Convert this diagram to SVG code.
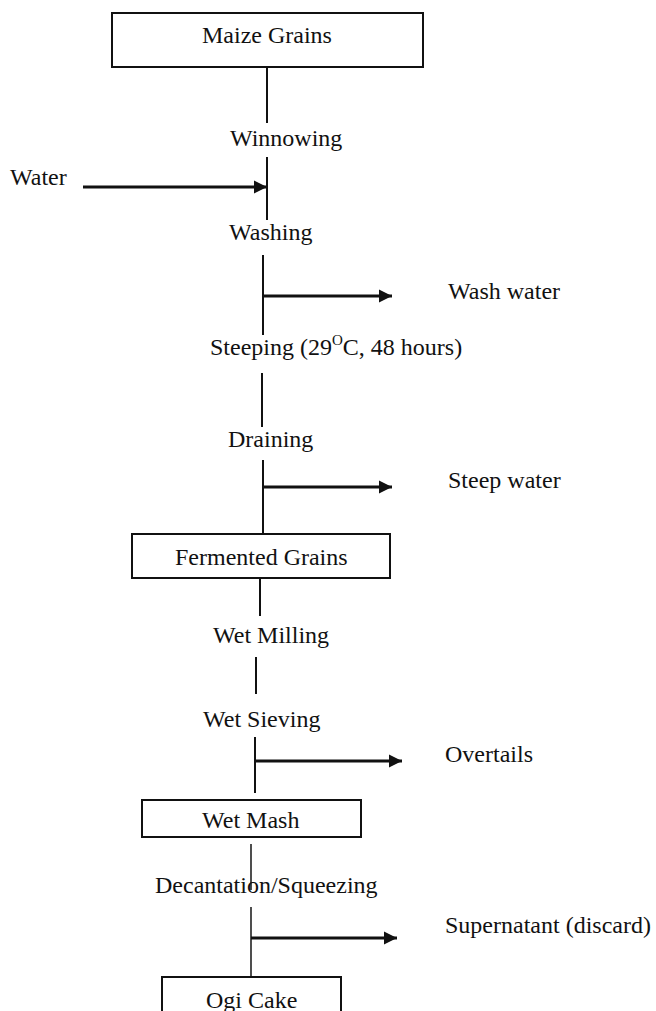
<svg xmlns="http://www.w3.org/2000/svg" width="656" height="1011" viewBox="0 0 656 1011">
<style>
  text { font-family: "Liberation Serif", "Times New Roman", serif; font-size: 24px; fill: #111; }
  .box { fill: #fff; stroke: #111; stroke-width: 2; }
  .ln { stroke: #111; stroke-width: 2; fill: none; }
  .ln2 { stroke: #222; stroke-width: 1.6; fill: none; }
  .arr { stroke: #111; stroke-width: 3; fill: none; marker-end: url(#ah); }
</style>
<defs>
  <marker id="ah" markerUnits="userSpaceOnUse" markerWidth="16" markerHeight="14" refX="13" refY="7" orient="auto">
    <path d="M0,0.5 L13,7 L0,13.5 Z" fill="#111"/>
  </marker>
</defs>
<rect width="656" height="1011" fill="#fff"/>
<g id="connectors">
  <line class="ln" x1="267" y1="67" x2="267" y2="123"/>
  <line class="arr" x1="83" y1="187" x2="267" y2="187"/>
  <line class="ln" x1="267" y1="157" x2="267" y2="220"/>
  <line class="ln" x1="263" y1="255" x2="263" y2="335"/>
  <line class="arr" x1="263" y1="296" x2="392" y2="296"/>
  <line class="ln" x1="262" y1="373" x2="262" y2="427"/>
  <line class="ln" x1="263" y1="460" x2="263" y2="534"/>
  <line class="arr" x1="263" y1="487" x2="392" y2="487"/>
  <line class="ln" x1="260" y1="578" x2="260" y2="616"/>
  <line class="ln" x1="256" y1="657" x2="256" y2="694"/>
  <line class="ln" x1="255" y1="737" x2="255" y2="793"/>
  <line class="arr" x1="255" y1="761" x2="402" y2="761"/>
  <line class="ln2" x1="251" y1="844" x2="251" y2="890"/>
  <line class="ln2" x1="251" y1="907" x2="251" y2="977"/>
  <line class="arr" x1="251" y1="938" x2="397" y2="938"/>
</g>
<g id="maize-grains">
  <rect class="box" x="112" y="13" width="311" height="54"/>
  <text x="202" y="43">Maize Grains</text>
</g>
<g id="winnowing"><text x="230" y="146">Winnowing</text></g>
<g id="water"><text x="10" y="185">Water</text></g>
<g id="washing"><text x="229" y="240">Washing</text></g>
<g id="wash-water"><text x="448" y="299">Wash water</text></g>
<g id="steeping"><text x="210" y="355">Steeping (29<tspan font-size="15" dy="-10">O</tspan><tspan dy="10">C, 48 hours)</tspan></text></g>
<g id="draining"><text x="228" y="447">Draining</text></g>
<g id="steep-water"><text x="448" y="488">Steep water</text></g>
<g id="fermented-grains">
  <rect class="box" x="132" y="534" width="258" height="44"/>
  <text x="175" y="565">Fermented Grains</text>
</g>
<g id="wet-milling"><text x="213" y="643">Wet Milling</text></g>
<g id="wet-sieving"><text x="203" y="727">Wet Sieving</text></g>
<g id="overtails"><text x="445" y="762">Overtails</text></g>
<g id="wet-mash">
  <rect class="box" x="142" y="800" width="219" height="37"/>
  <text x="202" y="828">Wet Mash</text>
</g>
<g id="decantation"><text x="155" y="893">Decantation/Squeezing</text></g>
<g id="supernatant"><text x="445" y="933">Supernatant (discard)</text></g>
<g id="ogi-cake">
  <rect class="box" x="162" y="977" width="179" height="50"/>
  <text x="206" y="1008">Ogi Cake</text>
</g>
</svg>
